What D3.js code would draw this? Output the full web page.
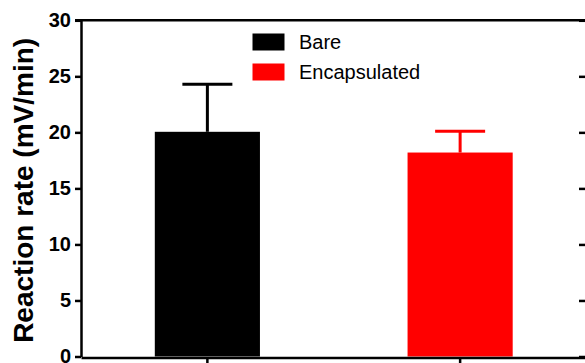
<!DOCTYPE html>
<html>
<head>
<meta charset="utf-8">
<script src="https://cdn.jsdelivr.net/npm/d3@7"></script>
<style>
  html, body { margin: 0; padding: 0; background: #fff; }
  svg { display: block; font-family: "Liberation Sans", Arial, sans-serif; }
</style>
</head>
<body>
<svg id="chart" width="585" height="363"></svg>
<script>
// data
const categories = ['Bare', 'Encapsulated'];
const values = [20.05, 18.2];
const errors = [4.25, 1.9];
const colors = ['#000000', '#ff0000'];
const yTicks = [0, 5, 10, 15, 20, 25, 30];

const width = 585, height = 363;
const margin = { top: 20.3, right: 0, bottom: 6.5, left: 81 };

const svg = d3.select('#chart');

const y = d3.scaleLinear()
  .domain([0, 30])
  .range([height - margin.bottom, margin.top]);

const x = d3.scaleBand()
  .domain(categories)
  .range([margin.left, 586.5])
  .paddingInner(0.584)
  .paddingOuter(0.292);

// bars
svg.selectAll('.bar')
  .data(categories)
  .enter()
  .append('rect')
  .attr('class', 'bar')
  .attr('x', d => x(d))
  .attr('width', x.bandwidth())
  .attr('y', (d, i) => y(values[i]))
  .attr('height', (d, i) => y(0) - y(values[i]))
  .attr('fill', (d, i) => colors[i]);

// error bars (upper only)
const capW = 50;
categories.forEach((c, i) => {
  const cx = x(c) + x.bandwidth() / 2;
  svg.append('line')
    .attr('x1', cx).attr('x2', cx)
    .attr('y1', y(values[i])).attr('y2', y(values[i] + errors[i]))
    .attr('stroke', colors[i]).attr('stroke-width', 3);
  svg.append('line')
    .attr('x1', cx - capW / 2).attr('x2', cx + capW / 2)
    .attr('y1', y(values[i] + errors[i])).attr('y2', y(values[i] + errors[i]))
    .attr('stroke', colors[i]).attr('stroke-width', 3);
});

// left axis
const left = svg.append('g')
  .attr('transform', `translate(${margin.left},0)`)
  .call(d3.axisLeft(y).tickValues(yTicks).tickSize(6).tickPadding(4).tickSizeOuter(0));
left.select('.domain').attr('stroke-width', 2.5);
left.selectAll('.tick line').attr('stroke-width', 2.5);
left.selectAll('text')
  .style('font-size', '20px')
  .style('font-weight', 'bold')
  .style('font-family', '"Liberation Sans", Arial, sans-serif')
  .attr('fill', '#000');

// right axis, ticks pointing inward
const right = svg.append('g')
  .attr('transform', 'translate(586,0)')
  .call(d3.axisLeft(y).tickValues(yTicks).tickSize(7).tickFormat('').tickSizeOuter(0));
right.select('.domain').attr('stroke-width', 2.5);
right.selectAll('.tick line').attr('stroke-width', 2.5);

// top frame line
svg.append('line')
  .attr('x1', margin.left - 6).attr('x2', width)
  .attr('y1', y(30)).attr('y2', y(30))
  .attr('stroke', '#000').attr('stroke-width', 2.5);

// bottom axis
const bottom = svg.append('g')
  .attr('transform', `translate(0,${y(0) + 1})`)
  .call(d3.axisBottom(x).tickSize(8).tickFormat('').tickSizeOuter(0));
bottom.select('.domain').attr('stroke-width', 2.5);
bottom.selectAll('.tick line').attr('stroke-width', 2.5);

// y axis title
svg.append('text')
  .attr('transform', `translate(33,${(margin.top + y(0)) / 2 + 2}) rotate(-90)`)
  .attr('text-anchor', 'middle')
  .style('font-size', '28px')
  .style('font-weight', 'bold')
  .text('Reaction rate (mV/min)');

// legend
const legend = svg.append('g').attr('transform', 'translate(252.5,33.5)');
categories.forEach((c, i) => {
  legend.append('rect')
    .attr('x', 0).attr('y', i * 30)
    .attr('width', 32).attr('height', 17)
    .attr('fill', colors[i]);
  legend.append('text')
    .attr('x', 46.5).attr('y', i * 30 + 15)
    .style('font-size', '20px')
    .text(c);
});
</script>
</body>
</html>
